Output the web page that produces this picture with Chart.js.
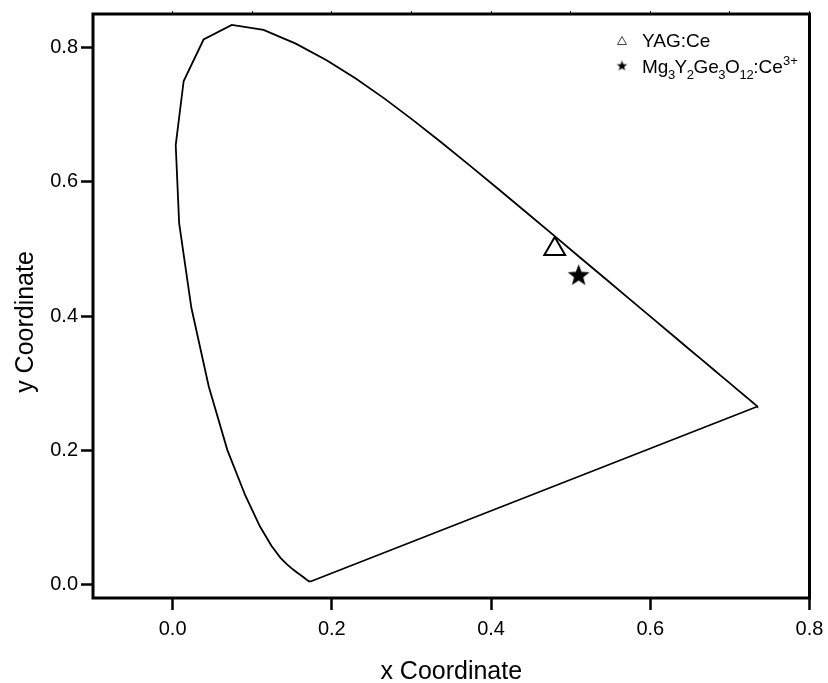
<!DOCTYPE html>
<html>
<head>
<meta charset="utf-8">
<script src="https://cdn.jsdelivr.net/npm/chart.js@4.4.1/dist/chart.umd.min.js"></script>
<style>
html,body{margin:0;padding:0;background:#fff;}
canvas{display:block;}
</style>
</head>
<body>
<canvas id="c" width="828" height="683"></canvas>
<script>
// CIE 1931 spectral locus (chromaticity x, y), 380–700 nm, 5 nm steps
const locusX = [0.1741,0.1740,0.1738,0.1736,0.1733,0.1730,0.1726,0.1721,0.1714,0.1703,0.1689,0.1669,0.1644,0.1611,0.1566,0.1510,0.1440,0.1355,0.1241,0.1096,0.0913,0.0687,0.0454,0.0235,0.0082,0.0039,0.0139,0.0389,0.0743,0.1142,0.1547,0.1929,0.2296,0.2658,0.3016,0.3373,0.3731,0.4087,0.4441,0.4788,0.5125,0.5448,0.5752,0.6029,0.6270,0.6482,0.6658,0.6801,0.6915,0.7006,0.7079,0.7140,0.7190,0.7230,0.7260,0.7283,0.7300,0.7311,0.7320,0.7327,0.7334,0.7340,0.7344,0.7346,0.7347];
const locusY = [0.0050,0.0050,0.0049,0.0049,0.0048,0.0048,0.0048,0.0048,0.0051,0.0058,0.0069,0.0086,0.0109,0.0138,0.0177,0.0227,0.0297,0.0399,0.0578,0.0868,0.1327,0.2007,0.2950,0.4127,0.5384,0.6548,0.7502,0.8120,0.8338,0.8262,0.8059,0.7816,0.7543,0.7243,0.6923,0.6589,0.6245,0.5896,0.5547,0.5202,0.4866,0.4544,0.4242,0.3965,0.3725,0.3514,0.3340,0.3197,0.3083,0.2993,0.2920,0.2859,0.2809,0.2770,0.2740,0.2717,0.2700,0.2689,0.2680,0.2673,0.2666,0.2660,0.2656,0.2654,0.2653];

const yagX = [0.480];
const yagY = [0.500];
const mygX = [0.510];
const mygY = [0.460];

const xTicks = [0.0, 0.2, 0.4, 0.6, 0.8];
const yTicks = [0.0, 0.2, 0.4, 0.6, 0.8];
const topTicks = [0.0, 0.1, 0.2, 0.3, 0.4, 0.5, 0.6, 0.7, 0.8];

const xTitle = 'x Coordinate';
const yTitle = 'y Coordinate';
const legendYag = 'YAG:Ce';
const legendMyg = [
  {t:'Mg'},{t:'3',s:'sub'},{t:'Y'},{t:'2',s:'sub'},{t:'Ge'},{t:'3',s:'sub'},
  {t:'O'},{t:'12',s:'sub'},{t:':Ce'},{t:'3+',s:'sup'}
];

const FONT = '"Liberation Sans", Arial, Helvetica, sans-serif';

// closed locus polygon
const locusData = locusX.map((x, i) => ({x: x, y: locusY[i]}));
locusData.push({x: locusX[0], y: locusY[0]});

// filled five-point star marker
function makeStar(R, fill) {
  const size = Math.ceil(R * 2 + 4);
  const cv = document.createElement('canvas');
  cv.width = size; cv.height = size;
  const g = cv.getContext('2d');
  const cx = size / 2, cy = size / 2;
  const r = R * 0.42;
  g.beginPath();
  for (let k = 0; k < 10; k++) {
    const rr = k % 2 === 0 ? R : r;
    const a = -Math.PI / 2 + k * Math.PI / 5;
    const px = cx + rr * Math.cos(a), py = cy + rr * Math.sin(a);
    if (k === 0) g.moveTo(px, py); else g.lineTo(px, py);
  }
  g.closePath();
  g.fillStyle = fill;
  g.fill();
  return cv;
}
const starImg = makeStar(11.5, '#000');

const bgPlugin = {
  id: 'bg',
  beforeDraw(chart) {
    const ctx = chart.ctx;
    ctx.save();
    ctx.fillStyle = '#fff';
    ctx.fillRect(0, 0, chart.width, chart.height);
    ctx.restore();
  }
};

const decorPlugin = {
  id: 'decor',
  afterDraw(chart) {
    const ctx = chart.ctx;
    const a = chart.chartArea;
    ctx.save();
    // frame
    ctx.strokeStyle = '#000';
    ctx.lineWidth = 3;
    ctx.strokeRect(a.left, a.top, a.right - a.left, a.bottom - a.top);

    // axis titles
    ctx.fillStyle = '#000';
    ctx.font = '25px ' + FONT;
    ctx.textAlign = 'center';
    ctx.textBaseline = 'alphabetic';
    ctx.fillText(xTitle, (a.left + a.right) / 2, 679);
    ctx.save();
    ctx.translate(33, 322);
    ctx.rotate(-Math.PI / 2);
    ctx.fillText(yTitle, 0, 0);
    ctx.restore();

    // legend
    const lx = 622;
    // open triangle
    ctx.beginPath();
    ctx.moveTo(lx, 36.5);
    ctx.lineTo(lx + 4.5, 44.5);
    ctx.lineTo(lx - 4.5, 44.5);
    ctx.closePath();
    ctx.lineWidth = 1;
    ctx.strokeStyle = '#444';
    ctx.stroke();
    // small star
    ctx.drawImage(makeStar(5.5, '#000'), lx - 7.5, 66 - 7.5);

    ctx.textAlign = 'left';
    ctx.fillStyle = '#000';
    ctx.font = '19px ' + FONT;
    ctx.fillText(legendYag, 642, 47);

    let x = 642;
    const base = 73;
    legendMyg.forEach(seg => {
      if (seg.s === 'sub') {
        ctx.font = '13px ' + FONT;
        ctx.fillText(seg.t, x - 0.5, base + 6);
        x += ctx.measureText(seg.t).width - 1;
        return;
      } else if (seg.s === 'sup') {
        ctx.font = '13px ' + FONT;
        ctx.fillText(seg.t, x, base - 8);
      } else {
        ctx.font = '19px ' + FONT;
        ctx.fillText(seg.t, x, base);
      }
      x += ctx.measureText(seg.t).width;
    });
    ctx.restore();
  }
};

const tickFont = {family: FONT, size: 20};

new Chart(document.getElementById('c'), {
  type: 'scatter',
  data: {
    datasets: [
      {
        label: 'locus',
        data: locusData,
        showLine: true,
        borderColor: '#000',
        borderWidth: 1.8,
        pointRadius: 0,
        fill: false,
        tension: 0
      },
      {
        label: 'YAG:Ce',
        data: yagX.map((x, i) => ({x: x, y: yagY[i]})),
        pointStyle: 'triangle',
        pointRadius: 12,
        backgroundColor: '#fff',
        borderColor: '#000',
        borderWidth: 2
      },
      {
        label: 'Mg3Y2Ge3O12:Ce3+',
        data: mygX.map((x, i) => ({x: x, y: mygY[i]})),
        pointStyle: starImg,
        pointRadius: 12
      }
    ]
  },
  options: {
    responsive: false,
    animation: false,
    devicePixelRatio: 1,
    layout: {padding: {left: 0, top: 0, right: 18.5, bottom: 0}},
    plugins: {legend: {display: false}, tooltip: {enabled: false}},
    scales: {
      x: {
        type: 'linear', position: 'bottom', min: -0.1, max: 0.8,
        afterBuildTicks: s => { s.ticks = xTicks.map(v => ({value: v})); },
        ticks: {font: tickFont, color: '#000', padding: 7, autoSkip: false, maxRotation: 0,
                callback: v => Number(v).toFixed(1)},
        grid: {display: true, drawOnChartArea: false, drawTicks: true, tickLength: 12,
               tickWidth: 2.5, tickColor: '#000'},
        border: {display: false},
        afterFit: s => { s.height = 85; s.paddingLeft = 0; s.paddingRight = 0; }
      },
      x2: {
        type: 'linear', position: 'top', min: -0.1, max: 0.8,
        afterBuildTicks: s => { s.ticks = topTicks.map(v => ({value: v})); },
        ticks: {display: false},
        grid: {display: true, drawOnChartArea: false, drawTicks: true, tickLength: 3,
               tickWidth: 1, tickColor: '#000'},
        border: {display: false},
        afterFit: s => { s.height = 11; s.paddingLeft = 0; s.paddingRight = 0; }
      },
      y: {
        type: 'linear', position: 'left', min: -0.02, max: 0.85,
        afterBuildTicks: s => { s.ticks = yTicks.map(v => ({value: v})); },
        ticks: {font: tickFont, color: '#000', padding: 3, autoSkip: false,
                callback: v => Number(v).toFixed(1)},
        grid: {display: true, drawOnChartArea: false, drawTicks: true, tickLength: 12,
               tickWidth: 2.5, tickColor: '#000'},
        border: {display: false},
        afterFit: s => { s.width = 93; s.paddingTop = 0; s.paddingBottom = 0; }
      }
    }
  },
  plugins: [bgPlugin, decorPlugin]
});
</script>
</body>
</html>
